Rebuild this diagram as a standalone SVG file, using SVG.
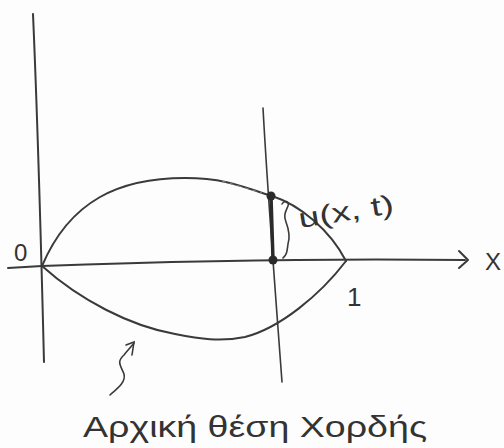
<svg xmlns="http://www.w3.org/2000/svg" width="504" height="448" viewBox="0 0 504 448">
<style>
.ln{fill:none;stroke:#3a3a3a;stroke-width:2;stroke-linecap:round;stroke-linejoin:round}
.thin{fill:none;stroke:#3a3a3a;stroke-width:1.6;stroke-linecap:round}
.faint{fill:none;stroke:#8a8a8a;stroke-width:1;stroke-dasharray:4 4}
.thick{fill:none;stroke:#2a2a2a;stroke-width:3.5}
.dot{fill:#2a2a2a}
.t{font-family:"Liberation Sans","DejaVu Sans",sans-serif;fill:#333}
</style>
<rect width="504" height="448" fill="#fdfdfd"/>
<g id="axes">
<path class="ln" d="M33,14 C35,60 40,200 44,362"/>
<path class="ln" d="M8,268 L42,266 C150,262 300,258 465,260"/>
<path class="ln" d="M459,251 L468,260 L459,268"/>
<path class="thin" d="M263,108 C268,200 276,300 282,382"/>
</g>
<g id="string">
<path class="ln" d="M42,266 C70,200 120,178 185,178 C230,178 250,190 272,196 C300,205 330,230 346,261"/>
<path class="faint" d="M222,181 L262,193"/>
<path class="ln" d="M42,266 C80,300 130,326 175,334 C200,339 220,342 245,337 C280,328 320,295 346,261"/>
</g>
<g id="displacement">
<line class="thick" x1="271" y1="196" x2="273" y2="260"/>
<circle class="dot" cx="271" cy="196" r="4.5"/>
<circle class="dot" cx="273" cy="260" r="4.5"/>
<path class="thin" d="M282,204 C284,200 290,201 288,206 C286,211 283,215 286,222 C289,230 290,238 288,244 C287,251 287,255 283,258"/>
</g>
<g id="labels">
<text class="t" x="14" y="261" font-size="24">0</text>
<text class="t" x="347" y="306" font-size="26">1</text>
<text class="t" x="485" y="270" font-size="24">X</text>
<text class="t" x="300" y="228" font-size="27" textLength="96" lengthAdjust="spacingAndGlyphs" transform="rotate(-9 300 228)">u(x, t)</text>
</g>
<g id="pointer">
<path class="thin" d="M110,395 C118,388 126,382 124,374 C121,366 116,362 124,355 C128,350 131,347 134,343"/>
<path class="thin" d="M126,345 L134,342 L132,355"/>
</g>
<text class="t" x="83" y="437" font-size="30" textLength="344" lengthAdjust="spacingAndGlyphs">Αρχική θέση Χορδής</text>
</svg>
